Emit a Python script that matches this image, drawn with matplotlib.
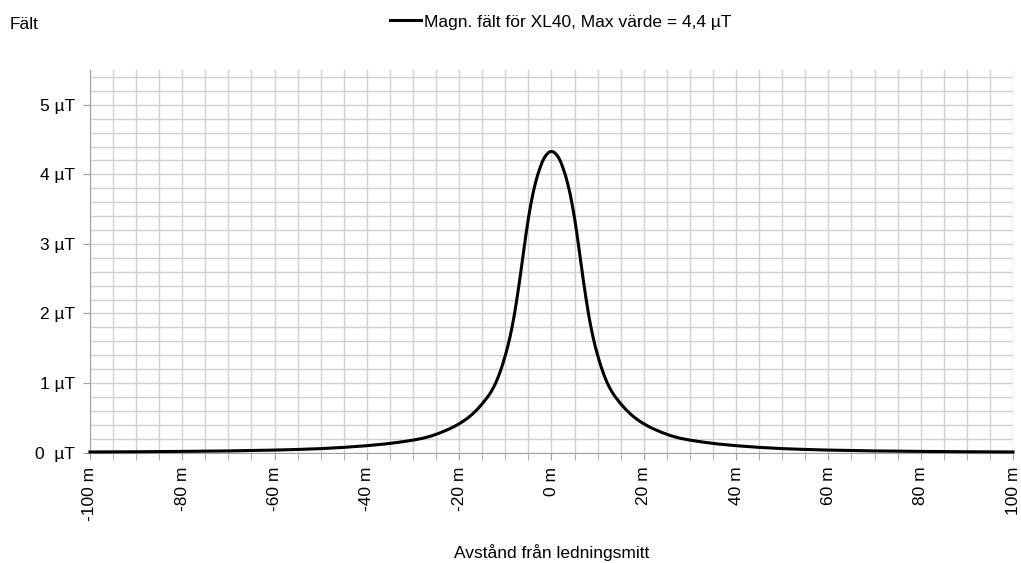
import numpy as np
import matplotlib.pyplot as plt
from matplotlib.ticker import MultipleLocator

plt.rcParams['font.family'] = ['Liberation Sans', 'DejaVu Sans']

# Distance from line centre (m) and magnetic field (uT)
distance = [-100, -90, -80, -70, -60, -55, -50, -45, -40, -36, -33, -30, -28, -26, -24,
            -22, -21, -20, -19, -18, -17, -16, -15, -14, -13.5, -13, -12.5, -12, -11.5,
            -11, -10.5,
            -10, -9.5, -9, -8.5, -8, -7.5, -7, -6.5, -6, -5.5, -5, -4.5, -4, -3.5, -3,
            -2.5, -2, -1.5, -1, -0.5, 0, 0.5, 1, 1.5, 2, 2.5, 3, 3.5, 4, 4.5, 5, 5.5,
            6, 6.5, 7, 7.5, 8, 8.5, 9, 9.5, 10, 10.5, 11, 11.5, 12, 12.5, 13, 13.5,
            14, 15, 16, 17, 18, 19, 20, 21, 22, 24, 26, 28, 30, 33, 36, 40, 45, 50,
            55, 60, 70, 80, 90, 100]
field = [0.010, 0.013, 0.018, 0.025, 0.037, 0.046, 0.058, 0.076, 0.100, 0.125, 0.150,
         0.180, 0.205, 0.240, 0.288, 0.345, 0.378, 0.415, 0.457, 0.505, 0.562, 0.628,
         0.703, 0.787, 0.832, 0.885, 0.945, 1.015, 1.095,
         1.185, 1.288,
         1.400, 1.520, 1.660, 1.820, 2.000, 2.210, 2.430, 2.670, 2.910, 3.150,
         3.370, 3.560, 3.730, 3.870, 3.990,
         4.090, 4.180, 4.245, 4.290, 4.320, 4.330, 4.320, 4.290, 4.245, 4.180,
         4.090, 3.990, 3.870, 3.730, 3.560, 3.370, 3.150,
         2.910, 2.670, 2.430, 2.210, 2.000, 1.820, 1.660, 1.520, 1.400, 1.288,
         1.185, 1.095, 1.015, 0.945, 0.885, 0.832,
         0.787, 0.703, 0.628, 0.562, 0.505, 0.457, 0.415, 0.378, 0.345, 0.288,
         0.240, 0.205, 0.180, 0.150, 0.125, 0.100, 0.076, 0.058,
         0.046, 0.037, 0.025, 0.018, 0.013, 0.010]

x_ticks = [-100, -80, -60, -40, -20, 0, 20, 40, 60, 80, 100]
x_labels = ['-100 m', '-80 m', '-60 m', '-40 m', '-20 m', '0 m', '20 m', '40 m', '60 m', '80 m', '100 m']
y_ticks = [0, 1, 2, 3, 4, 5]
y_labels = ['0  µT', '1 µT', '2 µT', '3 µT', '4 µT', '5 µT']

fs = 12.5
fig = plt.figure(figsize=(10.21, 5.63), dpi=100)
ax = fig.add_axes([0.0881, 0.196, 0.9041, 0.6797])

line, = ax.plot(distance, field, color='black', lw=2.2, clip_on=False, zorder=5,
                solid_joinstyle='round', label='Magn. fält för XL40, Max värde = 4,4 µT')

ax.set_xlim(-100, 100)
ax.set_ylim(0, 5.5)

# grid every 5 m and every 0.2 uT
ax.xaxis.set_minor_locator(MultipleLocator(5))
ax.yaxis.set_minor_locator(MultipleLocator(0.2))
ax.set_xticks(x_ticks)
ax.set_xticklabels(x_labels, rotation=90, fontsize=fs)
ax.set_yticks(y_ticks)
ax.set_yticklabels(y_labels, fontsize=fs)
ax.grid(True, which='both', color='#d0d0d0', lw=1.0)
ax.set_axisbelow(True)

ax.tick_params(axis='x', which='both', length=5, color='#a0a0a0', pad=5)
ax.tick_params(axis='y', which='major', length=5, color='#a0a0a0', pad=6)
ax.tick_params(axis='y', which='minor', length=0)

for s in ['top', 'right']:
    ax.spines[s].set_visible(False)
for s in ['left', 'bottom']:
    ax.spines[s].set_color('#a0a0a0')

fig.text(0.54, 0.018, 'Avstånd från ledningsmitt', fontsize=fs, ha='center', va='center')
fig.text(0.0098, 0.956, 'Fält', fontsize=fs, va='center')

fig.legend(handles=[line], loc='center', bbox_to_anchor=(0.549, 0.961),
           frameon=False, fontsize=fs, handlelength=1.8, handletextpad=0.15)

fig.savefig('out.png', dpi=100)
